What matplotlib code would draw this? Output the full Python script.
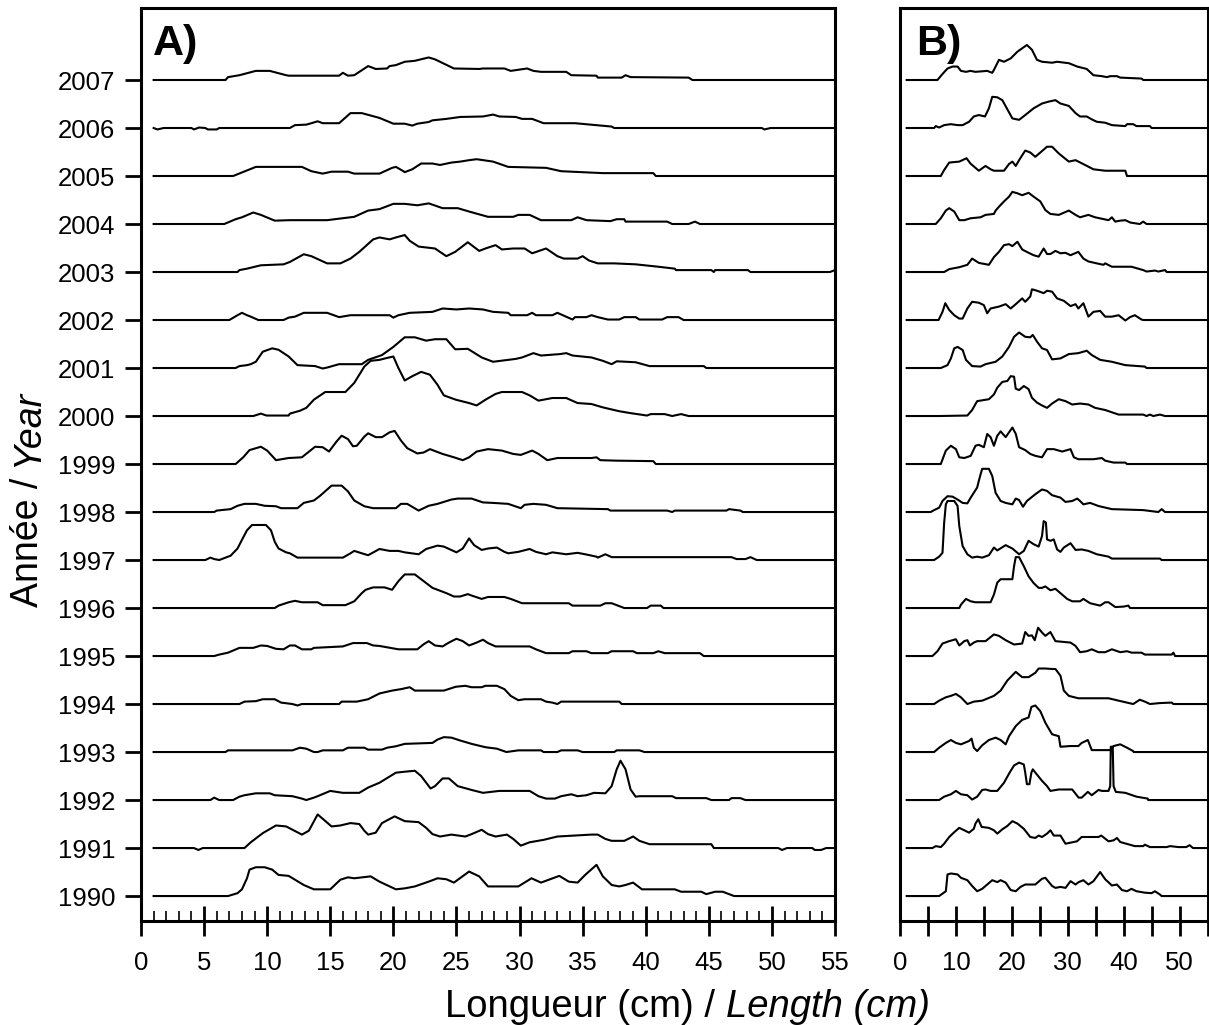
import matplotlib
matplotlib.use("Agg")
import numpy as np
from matplotlib import pyplot as plt
from matplotlib.ticker import MultipleLocator, FuncFormatter

plt.rcParams['font.family'] = ['Liberation Sans', 'DejaVu Sans']

years = list(range(1990, 2008))

# length (cm), relative height (1 = one year row)
profiles_a = {
    1990: [(6.9, 0), (7.65, .06), (8.0, .14), (8.4, .37), (8.6, .55), (9.1, .6), (9.8, .6), (10.4, .55),
           (10.9, .44), (11.7, .42), (12.9, .23), (13.7, .14), (15.0, .14), (15.8, .34), (16.4, .39),
           (16.9, .37), (18.2, .41), (18.9, .3), (20.2, .14), (20.9, .16), (21.7, .2), (22.8, .3),
           (23.5, .37), (24.2, .35), (24.8, .28), (26.0, .51), (26.8, .41), (27.5, .2), (29.9, .2),
           (30.95, .37), (31.7, .28), (33.15, .42), (33.9, .3), (34.6, .28), (35.2, .44), (36.1, .65),
           (36.6, .41), (37.3, .23), (37.9, .2), (38.4, .23), (39.0, .28), (39.7, .14), (42.3, .14),
           (42.8, .09), (44.4, .09), (44.8, .04), (45.5, .09), (46.1, .09), (47.0, 0)],
    1991: [(4.2, 0), (4.55, -.04), (4.9, 0), (8.2, 0), (8.7, .12), (9.65, .31), (10.7, .47), (11.5, .45),
           (12.75, .28), (13.3, .36), (14.0, .7), (14.4, .61), (15.1, .45), (15.8, .47), (16.6, .52),
           (17.3, .5), (17.7, .36), (18.0, .28), (18.6, .32), (19.1, .52), (20.1, .66), (20.9, .56),
           (22.0, .54), (22.6, .42), (23.1, .29), (23.7, .24), (24.6, .28), (25.7, .24), (26.2, .29),
           (27.0, .38), (27.5, .29), (28.1, .24), (29.0, .28), (29.5, .19), (30.1, .05), (30.8, .12),
           (31.9, .17), (33.0, .24), (35.7, .28), (36.2, .28), (36.8, .19), (37.3, .15), (38.3, .15),
           (39.0, .24), (39.5, .15), (40.3, .08), (45.2, .08), (45.4, 0), (50.5, 0), (50.8, -.04),
           (51.2, 0), (53.2, 0), (53.4, -.04), (53.9, -.04), (54.3, 0)],
    1992: [(5.5, 0), (5.8, .05), (6.2, 0), (7.3, 0), (7.8, .07), (8.2, .1), (9.1, .14), (10.2, .14),
           (10.6, .1), (12.0, .08), (12.75, .03), (13.1, 0), (13.7, .05), (14.0, .08), (15.0, .19),
           (16.0, .15), (17.3, .15), (18.0, .26), (18.9, .36), (20.2, .57), (20.9, .59), (21.7, .61),
           (22.2, .5), (22.95, .24), (23.3, .29), (23.9, .45), (24.4, .45), (25.1, .29), (26.2, .21),
           (27.1, .15), (28.4, .19), (30.8, .19), (31.5, .08), (32.1, .03), (32.8, .03), (33.3, .08),
           (34.1, .12), (34.6, .08), (35.3, .1), (35.9, .15), (36.8, .14), (37.3, .29), (37.7, .64),
           (38.0, .82), (38.4, .64), (38.8, .22), (39.2, .07), (39.5, .08), (42.1, .08), (42.4, .04),
           (44.8, .04), (45.2, 0), (46.6, 0), (46.8, .04), (47.5, .04), (47.9, 0)],
    1993: [(6.7, 0), (6.9, .035), (12.0, .035), (12.6, .09), (13.1, .07), (13.7, 0), (14.0, 0),
           (14.4, .035), (16.0, .035), (16.4, .09), (17.7, .09), (18.0, .05), (19.1, .05), (19.5, .09),
           (20.2, .12), (20.9, .17), (23.1, .19), (23.5, .26), (24.0, .31), (24.6, .3), (25.3, .24),
           (26.2, .17), (27.3, .1), (28.2, .07), (28.96, 0), (29.9, .035), (31.7, .035), (31.9, 0),
           (33.0, 0), (33.3, .035), (34.6, .035), (35.0, 0), (37.5, 0), (37.7, .035), (39.5, .035),
           (39.9, 0)],
    1994: [(7.8, 0), (8.2, .05), (9.1, .06), (9.65, .1), (10.6, .1), (11.1, .03), (12.0, 0), (12.4, -.03),
           (12.75, 0), (15.7, 0), (15.9, .05), (17.1, .05), (18.0, .1), (18.9, .22), (19.9, .28),
           (20.6, .31), (21.3, .35), (21.7, .28), (24.0, .28), (24.95, .36), (25.7, .38), (26.2, .35),
           (27.0, .35), (27.3, .38), (28.2, .38), (28.8, .31), (29.3, .17), (29.9, .08), (30.4, .1),
           (31.7, .1), (32.1, .05), (32.6, .03), (33.0, 0), (33.3, .05), (37.9, .05), (38.1, 0)],
    1995: [(5.8, 0), (6.2, .03), (6.9, .07), (7.8, .17), (8.9, .17), (9.5, .22), (10.0, .21), (10.7, .15),
           (11.3, .14), (11.8, .22), (12.2, .22), (12.75, .14), (13.5, .14), (13.7, .17), (16.0, .2),
           (16.8, .27), (17.9, .27), (18.4, .22), (18.9, .21), (20.4, .14), (21.9, .14), (22.4, .245),
           (22.8, .31), (23.3, .22), (23.9, .2), (24.4, .28), (25.0, .36), (25.5, .31), (26.0, .22),
           (26.6, .28), (27.1, .34), (27.5, .27), (28.1, .2), (30.8, .2), (31.3, .14), (32.1, .06),
           (33.9, .06), (34.2, .1), (35.3, .1), (35.7, .06), (37.0, .06), (37.3, .1), (39.0, .1),
           (39.3, .06), (40.6, .06), (41.0, .1), (41.5, .06), (44.3, .06), (44.6, 0)],
    1996: [(10.6, 0), (10.9, .05), (11.7, .12), (12.2, .15), (12.75, .12), (14.0, .12), (14.4, .06),
           (16.2, .06), (16.9, .14), (17.5, .31), (17.8, .38), (18.4, .43), (19.3, .43), (19.9, .38),
           (20.4, .56), (20.9, .7), (21.7, .7), (22.4, .56), (23.1, .42), (24.2, .31), (24.8, .24),
           (25.3, .24), (25.9, .29), (26.2, .26), (27.0, .19), (27.5, .23), (28.8, .23), (29.3, .19),
           (30.2, .1), (33.9, .1), (34.2, .05), (36.4, .05), (36.8, .1), (37.3, .1), (38.3, 0), (40.1, 0),
           (40.4, .05), (41.2, .05), (41.4, 0)],
    1997: [(5.1, 0), (5.5, .05), (5.8, .02), (6.2, 0), (6.7, .05), (7.1, .09), (7.65, .24), (8.0, .42),
           (8.4, .62), (8.8, .73), (9.9, .73), (10.3, .62), (10.6, .38), (10.9, .24), (11.5, .16),
           (11.8, .14), (12.4, .05), (16.0, .05), (16.6, .14), (16.9, .19), (17.5, .14), (18.0, .1),
           (18.9, .23), (19.7, .19), (20.4, .19), (20.9, .16), (22.0, .12), (22.6, .23), (23.5, .3),
           (24.0, .28), (25.0, .16), (25.5, .24), (26.0, .45), (26.4, .31), (27.0, .21), (27.5, .24),
           (28.2, .26), (28.8, .17), (29.1, .14), (29.9, .17), (30.8, .23), (31.3, .17), (32.1, .12),
           (32.6, .16), (33.7, .12), (34.6, .15), (35.2, .12), (36.1, .07), (36.2, .05), (36.8, .12),
           (37.3, .06), (46.8, .06), (47.2, .02), (47.9, .02), (48.3, .06), (48.8, 0)],
    1998: [(5.8, 0), (6.0, .03), (7.1, .06), (7.65, .13), (8.2, .17), (9.1, .17), (9.8, .13), (10.7, .12),
           (11.1, .08), (12.4, .08), (12.9, .19), (13.7, .24), (14.2, .34), (15.1, .55), (15.9, .55),
           (16.4, .43), (16.9, .24), (17.7, .12), (18.4, .08), (20.2, .08), (20.6, .17), (21.1, .17),
           (22.0, .03), (22.8, .13), (23.5, .17), (24.6, .26), (25.1, .28), (26.2, .28), (27.1, .2),
           (27.9, .19), (29.1, .17), (30.1, .08), (30.4, .15), (31.1, .17), (32.1, .15), (33.0, .08),
           (37.0, .06), (37.2, .03), (41.7, .03), (42.1, 0), (42.3, .03), (46.4, .03), (46.6, .06),
           (47.5, .03), (47.7, 0)],
    1999: [(7.5, 0), (8.1, .14), (8.6, .29), (9.5, .36), (10.0, .28), (10.7, .08), (11.7, .125),
           (12.75, .14), (13.8, .36), (14.4, .35), (14.9, .26), (15.5, .47), (15.9, .59), (16.4, .52),
           (16.8, .37), (17.1, .38), (17.7, .57), (18.0, .64), (18.6, .56), (19.1, .56), (19.7, .66),
           (20.1, .69), (20.6, .49), (21.1, .33), (21.9, .22), (22.4, .24), (22.9, .31), (23.9, .21),
           (24.8, .14), (25.5, .08), (26.0, .14), (26.6, .26), (27.5, .31), (28.6, .28), (29.5, .21),
           (30.1, .19), (31.0, .28), (31.5, .21), (32.2, .08), (33.0, .125), (35.7, .125), (36.1, .14),
           (36.4, .08), (37.7, .07), (40.6, .06), (40.8, 0)],
    2000: [(8.9, 0), (9.5, .05), (9.95, .01), (11.7, .01), (11.8, .05), (12.6, .11), (13.1, .17),
           (13.7, .34), (14.6, .5), (16.2, .5), (16.9, .69), (17.7, 1.03), (18.2, 1.15), (18.9, 1.17),
           (19.5, 1.21), (20.0, 1.24), (20.4, 1.0), (20.9, .74), (21.5, .83), (22.2, .92), (22.9, .86),
           (23.5, .65), (24.0, .43), (24.95, .34), (26.0, .27), (26.6, .22), (27.3, .34), (28.1, .46),
           (28.6, .5), (30.2, .5), (30.8, .43), (31.5, .32), (32.6, .375), (33.7, .375), (34.6, .27),
           (35.7, .25), (36.6, .18), (37.9, .1), (38.8, .06), (40.1, .01), (40.4, .04), (41.5, .04),
           (42.1, 0), (42.8, .04), (43.4, 0)],
    2001: [(7.5, 0), (7.8, .04), (8.4, .06), (8.7, .08), (9.1, .13), (9.65, .34), (10.4, .41), (10.9, .38),
           (11.7, .24), (12.4, .06), (13.8, .04), (14.4, -.01), (14.75, .01), (15.7, .08), (17.5, .08),
           (18.0, .17), (19.1, .27), (20.0, .44), (20.9, .64), (21.7, .64), (22.6, .57), (23.3, .6),
           (24.2, .6), (24.9, .39), (25.9, .40), (27.0, .22), (27.9, .13), (29.7, .19), (30.2, .22),
           (31.1, .31), (31.7, .26), (33.2, .29), (33.7, .31), (34.2, .26), (35.7, .22), (36.6, .15),
           (37.3, .08), (37.7, .14), (39.2, .12), (40.3, .04), (44.6, .04), (44.8, 0)],
    2002: [(7.0, 0), (7.65, .1), (8.0, .15), (8.4, .1), (8.7, .07), (9.3, 0), (11.3, 0), (11.7, .05),
           (12.2, .07), (12.9, .15), (14.75, .15), (15.7, .06), (16.6, .1), (19.7, .1), (20.0, .05),
           (20.4, .1), (21.3, .15), (23.1, .17), (23.9, .24), (25.0, .22), (26.0, .24), (27.1, .22),
           (27.9, .17), (29.1, .15), (29.3, .1), (30.6, .1), (31.0, .15), (31.3, .1), (32.6, .1),
           (33.0, .15), (34.2, .01), (34.4, .06), (35.3, .06), (35.7, .1), (36.2, .06), (37.0, .01),
           (37.9, .01), (38.3, .06), (39.2, .06), (39.5, .01), (41.3, .01), (41.7, .06), (42.6, .06),
           (43.0, 0)],
    2003: [(7.65, 0), (7.8, .04), (8.4, .07), (9.5, .14), (11.3, .16), (11.8, .21), (12.9, .37),
           (13.5, .33), (14.75, .18), (15.8, .18), (16.6, .28), (17.3, .42), (18.4, .68), (18.9, .72),
           (19.7, .68), (20.2, .72), (20.9, .77), (21.3, .65), (22.0, .53), (23.3, .49), (24.2, .33),
           (24.9, .42), (25.9, .62), (26.8, .44), (27.3, .49), (28.1, .56), (28.6, .47), (29.5, .49),
           (30.4, .49), (31.0, .39), (32.1, .49), (33.0, .33), (33.5, .28), (34.6, .28), (35.0, .33),
           (35.5, .24), (36.2, .18), (37.5, .18), (39.2, .16), (41.0, .11), (42.3, .07), (42.4, .04),
           (45.2, .04), (45.4, 0), (45.5, .04), (48.1, .04), (48.3, 0), (54.6, 0), (55.0, .04)],
    2004: [(6.6, 0), (7.5, .1), (8.0, .14), (8.9, .24), (9.5, .19), (10.6, .07), (11.8, .08), (14.75, .08),
           (16.9, .15), (18.0, .28), (18.9, .31), (20.0, .42), (20.9, .42), (21.9, .39), (22.8, .43),
           (23.9, .33), (25.1, .33), (26.0, .26), (27.5, .15), (29.5, .15), (29.9, .19), (30.8, .19),
           (31.7, .08), (34.1, .08), (34.6, .14), (35.3, .08), (37.2, .06), (37.7, .1), (38.3, .1),
           (38.4, .05), (41.7, .05), (42.1, 0), (43.4, 0), (43.9, .05), (44.3, 0)],
    2005: [(7.3, 0), (9.1, .19), (12.75, .19), (13.5, .1), (14.4, .05), (15.1, .09), (16.4, .09),
           (16.9, .05), (18.9, .05), (19.9, .17), (20.2, .19), (20.8, .1), (20.9, .08), (21.5, .14),
           (22.2, .26), (23.1, .26), (23.7, .23), (24.6, .28), (25.3, .3), (26.0, .33), (26.6, .35),
           (27.9, .3), (29.1, .19), (32.1, .17), (33.3, .1), (36.6, .06), (40.6, .06), (40.8, 0)],
    2006: [(1.3, -.03), (1.8, 0), (4.0, 0), (4.2, -.03), (4.6, .01), (5.1, 0), (5.3, -.03), (6.0, -.03),
           (6.2, 0), (11.8, 0), (12.2, .06), (13.1, .07), (13.5, .1), (14.0, .14), (14.4, .1), (15.7, .1),
           (16.6, .31), (17.5, .31), (18.9, .21), (20.0, .09), (20.9, .09), (21.5, .05), (21.9, .09),
           (22.8, .125), (23.1, .16), (24.2, .19), (25.3, .23), (27.1, .24), (27.9, .28), (28.4, .24),
           (29.7, .23), (30.2, .19), (31.0, .19), (31.9, .1), (34.4, .1), (37.3, .03), (37.5, 0),
           (49.2, 0), (49.4, -.03), (49.9, 0)],
    2007: [(6.7, 0), (6.9, .06), (7.8, .1), (9.1, .19), (10.2, .19), (11.5, .1), (11.7, .09), (15.7, .09),
           (16.0, .15), (16.4, .09), (16.9, .1), (18.0, .29), (18.6, .23), (19.5, .24), (19.7, .29),
           (20.2, .31), (20.9, .38), (21.7, .4), (22.8, .47), (23.3, .43), (24.8, .24), (26.8, .23),
           (27.1, .24), (28.8, .24), (29.3, .19), (30.6, .24), (31.1, .19), (31.7, .17), (33.7, .17),
           (34.1, .1), (36.1, .09), (36.2, .05), (38.1, .05), (38.4, .1), (38.8, .06), (43.4, .05),
           (43.7, 0)],
}

profiles_b = {
    1990: [(7.0, 0), (8.2, .1), (8.5, .45), (9.1, .47), (10.3, .45), (10.9, .38), (12.05, .33), (12.9, .21),
           (13.8, .1), (14.7, .15), (15.6, .24), (16.5, .33), (17.4, .29), (18.0, .33), (18.9, .28),
           (19.8, .125), (20.7, .1), (21.55, .19), (22.4, .24), (24.2, .24), (25.4, .36), (26.0, .38),
           (27.2, .21), (27.8, .17), (28.7, .19), (29.6, .17), (30.5, .31), (31.4, .24), (31.95, .29),
           (32.8, .33), (33.7, .24), (34.6, .31), (35.8, .5), (36.7, .35), (37.9, .22), (38.8, .24),
           (39.7, .125), (40.6, .1), (41.4, .15), (42.3, .1), (43.8, .07), (45.0, .06), (45.6, .1),
           (46.5, .03), (46.8, 0)],
    1991: [(5.8, 0), (6.4, .04), (7.3, .02), (7.9, .09), (8.8, .23), (9.7, .33), (10.6, .42), (11.5, .37),
           (12.35, .32), (13.2, .4), (13.5, .51), (14.0, .6), (14.6, .44), (15.9, .42), (16.8, .37),
           (17.4, .3), (18.3, .39), (19.2, .46), (20.1, .56), (21.0, .51), (22.15, .4), (23.3, .23),
           (24.2, .21), (24.8, .26), (25.4, .23), (26.3, .3), (26.9, .37), (27.5, .26), (28.7, .26),
           (29.6, .09), (31.65, .14), (32.5, .23), (35.5, .23), (36.0, .26), (37.3, .14), (38.2, .16),
           (38.8, .21), (39.4, .125), (42.0, .04), (43.5, .04), (43.8, .07), (44.7, .02), (47.7, .02),
           (48.3, .04), (49.8, .02), (51.2, .02), (51.8, .06), (52.4, 0)],
    1992: [(7.0, 0), (7.9, .07), (9.1, .12), (10.0, .19), (10.9, .12), (12.05, .1), (12.9, .01), (13.8, .07),
           (14.7, .21), (15.3, .22), (16.2, .19), (17.4, .19), (18.6, .36), (19.6, .57), (20.4, .72),
           (21.3, .78), (22.15, .74), (22.4, .57), (22.7, .33), (23.15, .33), (23.5, .57), (23.75, .64),
           (24.5, .53), (25.4, .4), (26.3, .29), (26.9, .19), (28.4, .22), (30.8, .22), (31.95, .05),
           (32.5, .05), (33.6, .17), (34.3, .1), (35.5, .21), (36.1, .19), (37.3, .19), (37.6, .29),
           (37.7, 1.11), (38.05, 1.11), (38.2, .29), (38.6, .17), (40.3, .15), (42.3, .07), (44.3, .03),
           (44.4, 0)],
    1993: [(6.1, 0), (7.0, .09), (8.2, .19), (9.1, .25), (10.0, .19), (10.9, .16), (12.35, .23), (12.8, .28),
           (13.2, .09), (13.8, .02), (14.7, .14), (15.9, .25), (17.1, .3), (18.0, .25), (18.9, .16),
           (19.5, .33), (20.7, .54), (21.85, .67), (23.0, .72), (23.5, .94), (24.2, .97), (25.1, .85),
           (26.0, .61), (27.2, .37), (28.4, .33), (28.7, .11), (30.5, .125), (31.9, .125), (32.5, .19),
           (33.6, .25), (34.3, .04), (37.6, .04), (38.2, .125), (39.4, .16), (40.6, .09), (41.7, .02),
           (41.8, 0)],
    1994: [(6.1, 0), (7.0, .07), (8.2, .14), (9.1, .17), (10.0, .21), (10.9, .14), (12.05, 0), (13.2, .05),
           (14.7, .07), (16.8, .17), (18.0, .28), (19.2, .49), (20.7, .67), (21.85, .56), (23.0, .56),
           (24.2, .65), (24.8, .74), (26.0, .74), (27.2, .73), (27.8, .73), (28.7, .59), (29.3, .28),
           (30.2, .17), (31.9, .12), (37.3, .12), (39.1, .07), (41.7, 0), (42.9, .09), (43.8, .05),
           (44.7, 0), (46.5, .02), (48.6, .03), (48.9, 0)],
    1995: [(5.8, 0), (6.7, .1), (7.6, .26), (8.8, .31), (10.0, .35), (10.6, .22), (11.5, .31), (12.05, .33),
           (12.5, .22), (13.2, .28), (13.8, .31), (15.3, .31), (16.8, .45), (17.7, .42), (18.9, .33),
           (20.4, .24), (21.85, .26), (22.4, .5), (23.0, .42), (23.6, .43), (24.1, .33), (24.7, .59),
           (25.4, .49), (26.0, .42), (26.9, .5), (27.8, .31), (30.5, .28), (31.4, .21), (32.2, .08),
           (33.4, .1), (34.3, .14), (35.5, .08), (36.7, .08), (37.9, .14), (39.4, .08), (40.6, .1),
           (41.45, .07), (43.2, .07), (43.8, .03), (48.6, .03), (48.9, .07), (49.2, 0)],
    1996: [(10.6, 0), (10.9, .07), (11.8, .19), (12.65, .14), (13.5, .12), (16.2, .12), (16.8, .28),
           (17.4, .53), (18.0, .6), (20.1, .6), (20.4, .87), (20.7, 1.06), (21.3, 1.06), (22.15, .87),
           (23.0, .66), (23.9, .52), (24.8, .42), (25.4, .42), (26.0, .45), (26.9, .37), (27.8, .4),
           (28.7, .31), (29.9, .19), (30.8, .14), (32.2, .14), (32.8, .19), (34.0, .1), (35.8, .05),
           (36.7, .12), (37.3, .12), (38.5, .02), (40.0, .03), (40.85, .05), (41.15, 0)],
    1997: [(6.1, 0), (7.0, .07), (7.6, .15), (7.9, .78), (8.2, 1.16), (8.5, 1.23), (9.7, 1.23), (10.3, 1.125),
           (10.6, .71), (11.2, .29), (12.05, .12), (12.9, .05), (13.8, .07), (14.7, .05), (15.9, .1),
           (16.8, .26), (17.4, .2), (18.9, .31), (20.1, .24), (21.3, .12), (22.15, .19), (23.0, .4),
           (23.9, .33), (24.8, .28), (25.4, .5), (25.7, .81), (26.1, .78), (26.3, .43), (26.9, .4),
           (27.5, .43), (28.1, .22), (28.7, .17), (29.3, .26), (30.5, .35), (31.4, .21), (32.5, .22),
           (33.7, .19), (35.2, .12), (37.3, .07), (37.9, .03), (46.5, .03), (46.8, 0)],
    1998: [(5.5, 0), (6.1, .04), (7.0, .09), (7.6, .23), (8.5, .33), (9.4, .32), (10.3, .26), (11.2, .19),
           (12.05, .18), (12.65, .3), (13.8, .51), (14.1, .65), (14.4, .78), (14.7, .9), (15.9, .9),
           (16.5, .75), (17.1, .4), (18.0, .23), (18.9, .19), (20.1, .16), (20.7, .28), (21.3, .25),
           (22.0, .11), (22.7, .23), (24.2, .37), (25.4, .47), (26.3, .44), (27.2, .35), (28.7, .3),
           (29.6, .21), (30.8, .23), (31.7, .28), (32.2, .23), (32.8, .16), (34.0, .19), (35.5, .125),
           (37.9, .06), (43.5, .04), (46.2, 0), (46.8, .06), (47.4, 0)],
    1999: [(7.3, 0), (8.2, .28), (9.1, .38), (10.0, .31), (10.6, .14), (11.5, .125), (12.65, .17), (13.5, .38),
           (14.1, .4), (15.0, .35), (15.6, .625), (16.2, .56), (16.8, .38), (17.4, .59), (18.0, .68),
           (18.9, .56), (19.5, .66), (20.1, .76), (20.7, .63), (21.3, .35), (22.4, .29), (23.3, .21),
           (24.2, .17), (25.4, .14), (26.3, .31), (27.5, .31), (29.0, .26), (30.5, .31), (31.1, .14),
           (31.9, .1), (34.6, .1), (36.1, .125), (36.7, .07), (38.2, .03), (40.3, .03), (40.6, 0)],
    2000: [(7.0, 0), (12.05, .01), (12.9, .125), (13.8, .31), (15.9, .35), (16.8, .45), (17.4, .59),
           (18.3, .71), (19.2, .73), (19.8, .83), (20.4, .82), (20.7, .57), (21.3, .54), (22.15, .625),
           (23.0, .56), (23.6, .38), (24.5, .28), (25.4, .22), (26.3, .17), (27.2, .26), (28.4, .35),
           (29.6, .31), (30.8, .24), (32.2, .26), (33.7, .24), (34.9, .17), (36.7, .125), (39.1, .03),
           (43.5, .03), (44.1, 0), (44.7, .03), (45.3, 0), (46.5, .03), (47.4, 0)],
    2001: [(7.3, 0), (8.5, .06), (9.1, .2), (9.7, .41), (10.3, .44), (11.2, .375), (11.8, .17), (12.9, .04),
           (14.4, .03), (15.3, .08), (17.1, .13), (18.3, .24), (19.5, .44), (20.4, .65), (21.3, .74),
           (22.4, .65), (23.3, .64), (23.75, .69), (24.5, .55), (25.4, .41), (26.3, .375), (27.2, .18),
           (28.7, .2), (30.2, .29), (31.9, .31), (33.4, .36), (34.3, .27), (35.8, .17), (37.9, .13),
           (40.3, .06), (43.8, .03), (44.1, 0)],
    2002: [(6.9, 0), (7.6, .17), (8.1, .35), (8.8, .21), (9.7, .1), (10.6, .03), (11.2, .03), (12.05, .24),
           (12.9, .38), (14.1, .36), (15.0, .31), (15.6, .14), (16.2, .24), (17.7, .28), (18.9, .33),
           (19.8, .24), (20.7, .33), (21.85, .45), (22.4, .38), (23.3, .49), (23.6, .64), (24.5, .61),
           (25.7, .56), (26.3, .61), (27.2, .59), (28.1, .45), (29.3, .4), (30.5, .29), (31.4, .33),
           (31.9, .24), (32.8, .35), (33.7, .07), (34.6, .17), (35.8, .19), (36.7, .07), (37.9, .07),
           (39.1, .1), (40.3, -.01), (41.15, .06), (42.0, .1), (43.2, .01), (43.5, 0)],
    2003: [(7.9, 0), (8.8, .06), (10.6, .1), (12.05, .15), (12.9, .28), (14.1, .19), (15.9, .15), (16.8, .31),
           (17.7, .42), (18.6, .56), (19.5, .58), (20.1, .54), (21.0, .63), (21.85, .47), (23.0, .4),
           (23.9, .35), (24.8, .32), (25.7, .49), (26.3, .375), (26.9, .375), (27.8, .44), (28.7, .39),
           (29.6, .4), (30.5, .35), (31.9, .42), (32.8, .28), (33.7, .22), (35.2, .18), (36.4, .15),
           (36.7, .18), (37.9, .11), (41.4, .11), (43.5, .04), (44.1, .01), (45.6, .03), (46.2, .01),
           (47.4, .04), (47.7, 0)],
    2004: [(6.4, 0), (7.3, .12), (8.2, .28), (8.8, .33), (9.7, .26), (10.6, .08), (11.5, .08), (12.65, .12),
           (14.4, .14), (15.3, .19), (16.8, .21), (17.1, .28), (17.7, .36), (18.6, .47), (19.5, .57),
           (20.1, .67), (21.0, .64), (21.85, .6), (23.0, .65), (23.9, .57), (25.1, .47), (26.0, .29),
           (26.9, .21), (28.4, .19), (30.2, .28), (31.4, .19), (32.2, .14), (33.7, .19), (34.9, .14),
           (37.3, .08), (37.9, .14), (38.5, .05), (39.4, .07), (40.3, .08), (41.2, .03), (42.9, 0),
           (43.5, .05), (44.1, 0)],
    2005: [(7.3, 0), (7.9, .125), (8.8, .28), (10.6, .3), (11.9, .37), (12.6, .26), (14.1, .11), (15.3, .21),
           (16.2, .14), (16.8, .11), (18.6, .11), (19.5, .25), (20.1, .3), (20.7, .21), (21.3, .33),
           (22.4, .53), (23.3, .49), (24.2, .4), (24.8, .46), (26.3, .61), (27.2, .61), (28.4, .47),
           (30.2, .3), (31.4, .33), (33.1, .23), (34.6, .14), (36.7, .11), (40.3, .11), (40.6, 0)],
    2006: [(6.1, 0), (6.4, .04), (7.0, .01), (7.9, .06), (9.1, .08), (10.3, .06), (11.2, .06), (12.35, .13),
           (13.2, .24), (14.1, .27), (15.2, .24), (15.9, .41), (16.5, .65), (17.4, .64), (18.3, .58),
           (19.2, .39), (20.1, .2), (21.3, .17), (22.4, .27), (23.9, .41), (25.4, .51), (26.6, .55),
           (27.8, .58), (28.7, .51), (30.2, .46), (31.4, .31), (32.2, .24), (33.4, .24), (34.3, .18),
           (35.2, .13), (36.7, .11), (37.9, .06), (40.3, .04), (40.6, .08), (41.7, .08), (42.3, .04),
           (44.7, .04), (45.0, 0)],
    2007: [(6.7, 0), (7.6, .125), (8.5, .24), (9.4, .28), (10.3, .28), (10.9, .19), (11.8, .17), (12.6, .19),
           (13.5, .17), (15.6, .19), (16.5, .15), (16.8, .21), (17.7, .42), (18.6, .38), (19.8, .45),
           (21.0, .59), (22.7, .73), (23.6, .63), (24.5, .42), (25.4, .38), (27.2, .36), (28.1, .38),
           (30.2, .35), (31.7, .28), (33.4, .23), (34.6, .1), (36.1, .08), (37.0, .06), (37.6, .08),
           (38.8, .08), (39.4, .05), (43.2, .03), (43.5, 0)],
}

W, H = 1209, 1025
fig = plt.figure(figsize=(W / 100, H / 100), dpi=100)
ax_a = fig.add_axes([141 / W, 104 / H, 694 / W, 913 / H])
ax_b = fig.add_axes([900 / W, 104 / H, 307.5 / W, 913 / H])


def draw_panel(ax, profiles, x_start):
    for year in years:
        pts = profiles[year]
        xs = [x_start] + [p[0] for p in pts] + [55.0]
        ys = [0.0] + [p[1] for p in pts] + [0.0]
        ax.plot(xs, year + np.array(ys), color='black', lw=1.5)
    ax.set_xlim(0, 55)
    ax.set_ylim(1989.48, 2008.5)
    for sp in ax.spines.values():
        sp.set_linewidth(2.2)
    ax.tick_params(axis='x', which='major', direction='inout', length=21.6, width=2,
                   labelsize=18.5, pad=11)


draw_panel(ax_a, profiles_a, 1.0)
draw_panel(ax_b, profiles_b, 1.2)

ax_a.xaxis.set_major_locator(MultipleLocator(5))
ax_a.xaxis.set_minor_locator(MultipleLocator(1))
ax_a.tick_params(axis='x', which='minor', direction='in', length=7.2, width=1.2)
ax_a.set_yticks(years)
ax_a.set_yticklabels([str(y) for y in years])
ax_a.tick_params(axis='y', direction='out', length=11.5, width=2, labelsize=18.5, pad=7)

ax_b.xaxis.set_major_locator(MultipleLocator(5))
ax_b.xaxis.set_major_formatter(FuncFormatter(lambda v, p: f'{v:.0f}' if v % 10 == 0 else ''))
ax_b.set_yticks([])

fig.text(153 / W, (H - 55) / H, 'A)', fontsize=31, fontweight='bold', va='baseline')
fig.text(916 / W, (H - 55) / H, 'B)', fontsize=31, fontweight='bold', va='baseline')

# axis titles: plain part followed by an italic part
fig.canvas.draw()
r = fig.canvas.get_renderer()
fs = 27.5
gap = 0.278 * fs * 100 / 72

tx1 = fig.text(0, 8 / H, 'Longueur (cm) /', fontsize=fs, va='baseline')
tx2 = fig.text(0, 8 / H, 'Length (cm)', fontsize=fs, style='italic', va='baseline')
w1 = tx1.get_window_extent(r).width
w2 = tx2.get_window_extent(r).width
x0 = 687.5 - (w1 + gap + w2) / 2
tx1.set_x(x0 / W)
tx2.set_x((x0 + w1 + gap) / W)

fs_y = 27
gap_y = 0.278 * fs_y * 100 / 72
ty1 = fig.text(38 / W, (H - 607) / H, 'Année /', fontsize=fs_y, rotation=90,
               rotation_mode='anchor', ha='left', va='baseline')
h1 = ty1.get_window_extent(r).height
fig.text(38 / W, (H - 607 + h1 + gap_y) / H, 'Year', fontsize=fs_y, style='italic', rotation=90,
         rotation_mode='anchor', ha='left', va='baseline')

fig.savefig('out.png', dpi=100)
